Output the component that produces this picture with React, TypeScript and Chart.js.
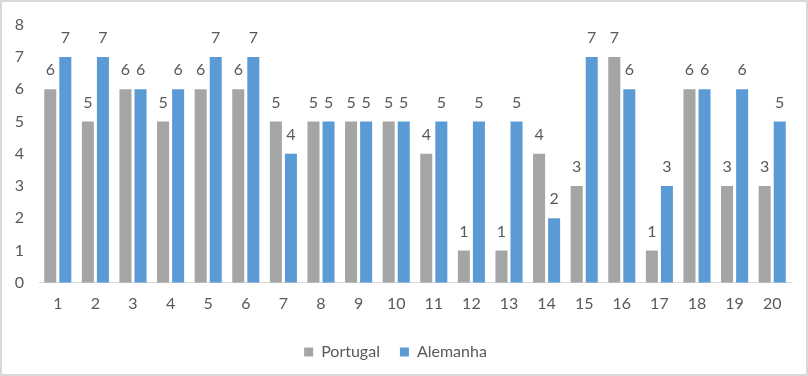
import React, { useEffect, useRef } from "react";
import { Chart, registerables } from "chart.js";

Chart.register(...registerables);

const categories = ["1","2","3","4","5","6","7","8","9","10","11","12","13","14","15","16","17","18","19","20"];
const portugal = [6,5,6,5,6,6,5,5,5,5,4,1,1,4,3,7,1,6,3,3];
const alemanha = [7,7,6,6,7,7,4,5,5,5,5,5,5,2,7,6,3,6,6,5];
const seriesNames = ["Portugal", "Alemanha"];
const yTicks = [0,1,2,3,4,5,6,7,8];

const FONT = "Lato, 'Open Sans', sans-serif";
const TEXT = "#595959";

const bgBorder = {
  id: "bgBorder",
  beforeDraw(chart: any) {
    const ctx = chart.ctx;
    ctx.save();
    ctx.fillStyle = "#ffffff";
    ctx.fillRect(0, 0, chart.width, chart.height);
    ctx.strokeStyle = "#d9d9d9";
    ctx.lineWidth = 2;
    ctx.strokeRect(1, 1, chart.width - 2, chart.height - 2);
    ctx.restore();
  },
};

const valueLabels = {
  id: "valueLabels",
  afterDatasetsDraw(chart: any) {
    const ctx = chart.ctx;
    ctx.save();
    ctx.fillStyle = TEXT;
    ctx.font = `16px ${FONT}`;
    ctx.textAlign = "center";
    ctx.textBaseline = "middle";
    chart.data.datasets.forEach((ds: any, i: number) => {
      const meta = chart.getDatasetMeta(i);
      meta.data.forEach((bar: any, j: number) => {
        ctx.fillText(String(ds.data[j]), bar.x, bar.y - 19);
      });
    });
    ctx.restore();
  },
};

export default function App() {
  const ref = useRef<HTMLCanvasElement>(null);
  useEffect(() => {
    document.body.style.margin = "0";
    const chart = new Chart(ref.current!, {
      type: "bar",
      data: {
        labels: categories,
        datasets: [
          { label: seriesNames[0], data: portugal, backgroundColor: "#a5a5a5", categoryPercentage: 0.8, barPercentage: 0.8 },
          { label: seriesNames[1], data: alemanha, backgroundColor: "#5b9bd5", categoryPercentage: 0.8, barPercentage: 0.8 },
        ],
      },
      options: {
        responsive: false,
        animation: false,
        layout: { padding: { top: 15, right: 17, left: 0, bottom: 6 } },
        scales: {
          x: {
            grid: { display: false, drawTicks: false },
            border: { display: true, color: "#d9d9d9", width: 1 },
            ticks: { color: TEXT, font: { family: FONT, size: 16 }, padding: 11, maxRotation: 0 },
          },
          y: {
            min: 0,
            max: 8,
            afterBuildTicks: (s: any) => { s.ticks = yTicks.map((v) => ({ value: v })); },
            afterFit: (s: any) => { s.width = 39; },
            grid: { display: false, drawTicks: false },
            border: { display: false },
            ticks: { color: TEXT, font: { family: FONT, size: 16 }, padding: 15 },
          },
        },
        plugins: {
          legend: {
            position: "bottom",
            labels: { color: TEXT, font: { family: FONT, size: 16 }, boxWidth: 9, boxHeight: 9, padding: 20 },
          },
          tooltip: { enabled: false },
        },
      },
      plugins: [bgBorder, valueLabels],
    });
    return () => chart.destroy();
  }, []);
  return <canvas ref={ref} width={808} height={376} style={{ display: "block" }} />;
}
